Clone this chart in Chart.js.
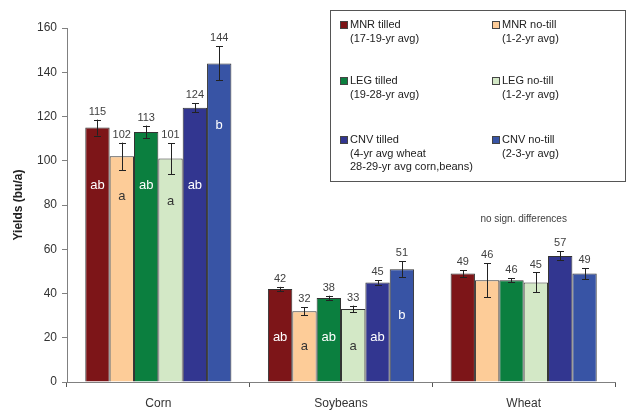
<!DOCTYPE html>
<html><head><meta charset="utf-8">
<script src="https://cdn.jsdelivr.net/npm/chart.js@4"></script>
<style>html,body{margin:0;padding:0;background:#fff;overflow:hidden}</style>
</head><body>
<canvas id="c" width="629" height="412"></canvas>
<script>
const categories = ['Corn', 'Soybeans', 'Wheat'];
const seriesNames = ['MNR tilled', 'MNR no-till', 'LEG tilled', 'LEG no-till', 'CNV tilled', 'CNV no-till'];
const seriesNotes = [
  ['(17-19-yr avg)'],
  ['(1-2-yr avg)'],
  ['(19-28-yr avg)'],
  ['(1-2-yr avg)'],
  ['(4-yr avg wheat', '28-29-yr avg corn,beans)'],
  ['(2-3-yr avg)']
];
const yTicks = [0, 20, 40, 60, 80, 100, 120, 140, 160];

const mnrTilled   = [115, 42, 49];
const mnrNoTill   = [102, 32, 46];
const legTilled   = [113, 38, 46];
const legNoTill   = [101, 33, 45];
const cnvTilled   = [124, 45, 57];
const cnvNoTill   = [144, 51, 49];

const mnrTilledErr = [3.6, 1.0, 1.5];
const mnrNoTillErr = [6.2, 1.8, 7.7];
const legTilledErr = [2.9, 1.0, 1.0];
const legNoTillErr = [7.0, 1.5, 4.5];
const cnvTilledErr = [2.1, 1.0, 2.0];
const cnvNoTillErr = [7.7, 3.5, 2.5];

const mnrTilledLetters = ['ab', 'ab', ''];
const mnrNoTillLetters = ['a', 'a', ''];
const legTilledLetters = ['ab', 'ab', ''];
const legNoTillLetters = ['a', 'a', ''];
const cnvTilledLetters = ['ab', 'ab', ''];
const cnvNoTillLetters = ['b', 'b', ''];

const note = 'no sign. differences';

const colors = ['#7d1518', '#fdcc98', '#0b7f3f', '#d3e8c6', '#323690', '#3854a5'];
const letterColors = ['#ffffff', '#333333', '#ffffff', '#333333', '#ffffff', '#ffffff'];
// letter vertical level (data units) per series & category
const letterLevels = [[89, 20], [84, 16.3], [89, 20], [81.5, 16.3], [89, 20], [116, 30]];

const values = [mnrTilled, mnrNoTill, legTilled, legNoTill, cnvTilled, cnvNoTill];
const errs = [mnrTilledErr, mnrNoTillErr, legTilledErr, legNoTillErr, cnvTilledErr, cnvNoTillErr];
const letters = [mnrTilledLetters, mnrNoTillLetters, legTilledLetters, legNoTillLetters, cnvTilledLetters, cnvNoTillLetters];

const FONT = '"Liberation Sans", Arial, sans-serif';

const overlay = {
  id: 'overlay',
  afterDatasetsDraw(chart) {
    const ctx = chart.ctx;
    const y = chart.scales.y;
    ctx.save();
    chart.data.datasets.forEach((ds, di) => {
      const meta = chart.getDatasetMeta(di);
      meta.data.forEach((bar, i) => {
        const v = ds.data[i];
        const e = errs[di][i];
        const x = Math.round(bar.x) + 0.5;
        const yt = y.getPixelForValue(v + e);
        const yb = y.getPixelForValue(v - e);
        ctx.strokeStyle = '#222';
        ctx.lineWidth = 1;
        ctx.beginPath();
        ctx.moveTo(x, yt); ctx.lineTo(x, yb);
        ctx.moveTo(x - 3.5, Math.round(yt) + 0.5); ctx.lineTo(x + 3.5, Math.round(yt) + 0.5);
        ctx.moveTo(x - 3.5, Math.round(yb) + 0.5); ctx.lineTo(x + 3.5, Math.round(yb) + 0.5);
        ctx.stroke();
        ctx.fillStyle = '#404040';
        ctx.font = '11px ' + FONT;
        ctx.textAlign = 'center';
        ctx.textBaseline = 'middle';
        ctx.fillText(String(Math.round(v)), bar.x, yt - 8);
        const L = letters[di][i];
        if (L) {
          ctx.fillStyle = letterColors[di];
          ctx.font = '13px ' + FONT;
          ctx.fillText(L, bar.x, y.getPixelForValue(letterLevels[di][i]));
        }
      });
    });
    // note above wheat
    const xs = chart.scales.x;
    ctx.fillStyle = '#404040';
    ctx.font = '10px ' + FONT;
    ctx.textAlign = 'center';
    ctx.textBaseline = 'middle';
    ctx.fillText(note, xs.getPixelForValue(2), y.getPixelForValue(73.6));
    // legend
    ctx.strokeStyle = '#555';
    ctx.lineWidth = 1;
    ctx.strokeRect(330.5, 10.5, 295, 171);
    const colX = [340, 492];
    const rowY = [25, 81, 140];
    ctx.font = '11px ' + FONT;
    ctx.textAlign = 'left';
    seriesNames.forEach((name, k) => {
      const cx = colX[k % 2];
      const ry = rowY[Math.floor(k / 2)];
      ctx.fillStyle = colors[k];
      ctx.fillRect(cx, ry - 4, 8, 8);
      ctx.strokeStyle = '#444';
      ctx.strokeRect(cx + 0.5, ry - 3.5, 7, 7);
      ctx.fillStyle = '#222';
      ctx.fillText(name, cx + 10, ry);
      seriesNotes[k].forEach((t, j) => ctx.fillText(t, cx + 10, ry + 13.5 * (j + 1)));
    });
    ctx.restore();
  }
};

new Chart(document.getElementById('c'), {
  type: 'bar',
  data: {
    labels: categories,
    datasets: seriesNames.map((n, k) => ({
      label: n,
      data: values[k],
      backgroundColor: colors[k],
      borderColor: '#333',
      borderWidth: 1,
      categoryPercentage: 0.8,
      barPercentage: 1.0
    }))
  },
  options: {
    responsive: false,
    animation: false,
    layout: { padding: { left: 0, top: 28, right: 14, bottom: 0 } },
    plugins: { legend: { display: false }, tooltip: { enabled: false } },
    scales: {
      x: {
        afterFit(s) { s.height = 30; },
        border: { color: '#808080', width: 1 },
        grid: { display: true, drawOnChartArea: false, drawTicks: true, tickLength: 5, offset: true, color: '#555' },
        ticks: { color: '#333', font: { size: 12, family: FONT }, padding: 9 }
      },
      y: {
        min: 0, max: 160,
        afterFit(s) { s.width = 67; },
        afterBuildTicks(s) { s.ticks = yTicks.map(v => ({ value: v })); },
        border: { color: '#808080', width: 1 },
        grid: { display: true, drawOnChartArea: false, drawTicks: true, tickLength: 5, color: '#808080' },
        ticks: { color: '#333', font: { size: 12, family: FONT }, padding: 5 },
        title: { display: true, text: 'Yields (bu/a)', color: '#222', font: { size: 12, weight: 'bold', family: FONT }, padding: { top: 11, bottom: 0 } }
      }
    }
  },
  plugins: [overlay]
});
</script>
</body></html>
